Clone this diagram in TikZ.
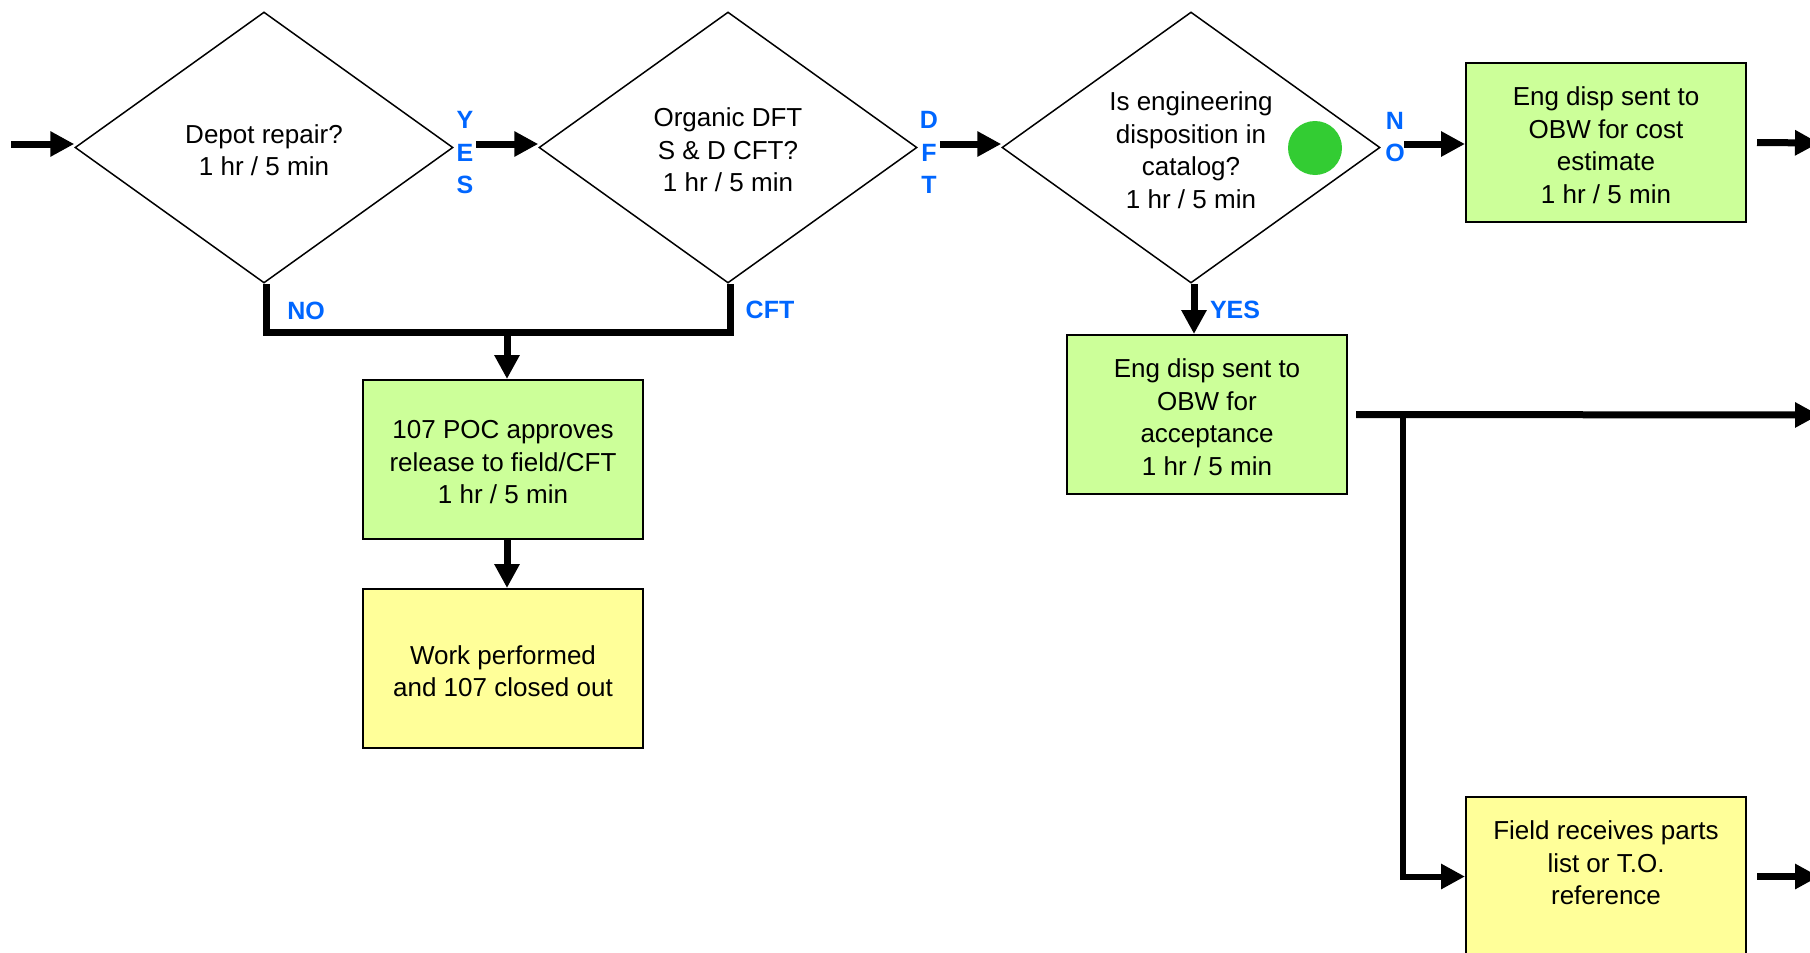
\documentclass[tikz,border=0pt]{standalone}
\usepackage{fontspec}
\setmainfont{Liberation Sans}
\usetikzlibrary{shapes.geometric,arrows.meta}

\definecolor{boxgreen}{RGB}{204,255,153}
\definecolor{boxyellow}{RGB}{255,255,153}
\definecolor{labelblue}{RGB}{0,102,255}
\definecolor{dotgreen}{RGB}{51,204,51}

% a little headroom above the first line, so the text block sits slightly low
\newcommand{\topgap}{\rule{0pt}{24pt}}

\begin{document}
\begin{tikzpicture}[x=1pt,y=-1pt,
  decision/.style={draw, diamond, shape aspect=1.4, line width=1.5pt,
    minimum width=378pt, minimum height=271pt, inner sep=0pt, align=center,
    font=\fontsize{26}{32.5}\selectfont},
  stepbox/.style={draw, line width=2pt, minimum width=280pt, minimum height=159pt,
    inner sep=0pt, align=center, font=\fontsize{26}{32.5}\selectfont},
  greenbox/.style={stepbox, fill=boxgreen},
  yellowbox/.style={stepbox, fill=boxyellow},
  flow/.style={line width=7pt, line join=miter, -{Triangle[length=24pt,width=24pt]}},
  link/.style={line width=7pt, line join=miter},
  tag/.style={text=labelblue, inner sep=0pt, align=center,
    font=\fontsize{25}{32.5}\bfseries\selectfont}
]
\useasboundingbox (0,0) rectangle (1810,953);

% decisions
\node[decision] (d1) at (264,147.5) {\topgap Depot repair?\\1 hr / 5 min};
\node[decision] (d2) at (728,147.5) {\topgap Organic DFT\\S \& D CFT?\\1 hr / 5 min};
\node[decision] (d3) at (1191,147.5) {\topgap Is engineering\\disposition in\\catalog?\\1 hr / 5 min};
\node[circle, fill=dotgreen, minimum size=54pt, inner sep=0pt] (dot3) at (1315,148) {};

% process boxes
\node[greenbox] (A) at (1606,142.5) {\topgap Eng disp sent to\\OBW for cost\\estimate\\1 hr / 5 min};
\node[greenbox] (B) at (1207,414.5) {\topgap Eng disp sent to\\OBW for\\acceptance\\1 hr / 5 min};
\node[greenbox] (C) at (503,459.5) {\topgap 107 POC approves\\release to field/CFT\\1 hr / 5 min};
\node[yellowbox] (D) at (503,668.5) {\topgap Work performed\\and 107 closed out};
\node[yellowbox] (E) at (1606,876.5) {\topgap Field receives parts\\list or T.O.\\reference\\\mbox{}};

% free ends and junctions
\coordinate (in) at (11,144);
\coordinate (j) at (507,332);
\coordinate (br) at (1403,415);
\coordinate (outA) at (1819,143);
\coordinate (outB) at (1819,415);

% main line
\draw[flow] (in) -- (in -| d1.west);
\draw[flow] ([xshift=22pt,yshift=3.5pt]d1.east) -- ([yshift=3.5pt]d2.west);
\draw[flow] ([xshift=22pt,yshift=3.5pt]d2.east) -- ([yshift=3.5pt]d3.west);
\draw[flow] ([xshift=23.5pt,yshift=3.5pt]d3.east) -- ([yshift=3.5pt]d3.east -| A.west);
\draw[flow] ([xshift=10pt]A.east) -- (outA);

% NO / CFT branch
\draw[link] ([xshift=2.5pt]d1.south) |- (j) -| ([xshift=2pt]d2.south);
\draw[flow] (j) -- (j |- C.north);
\draw[flow] (C.south -| j) -- (D.north -| j);

% YES branch
\draw[flow] ([xshift=3pt]d3.south) -- ([xshift=3pt]d3.south |- B.north);
\draw[flow] ([xshift=8pt]B.east) -- (outB);
\draw[flow, line width=6pt] (br) |- (E.west);
\draw[flow] ([xshift=10pt]E.east) -- (E.east -| outB);

% branch labels
\node[tag] (yes1) at (465,153) {Y\\E\\S};
\node[tag] (dft2) at (929,152.5) {D\\F\\T};
\node[tag] (no3) at (1395,137) {N\\O};
\node[tag] (no1) at (306,311) {NO};
\node[tag] (cft2) at (770,310) {CFT};
\node[tag] (yes3) at (1235,310) {YES};
\end{tikzpicture}
\end{document}
